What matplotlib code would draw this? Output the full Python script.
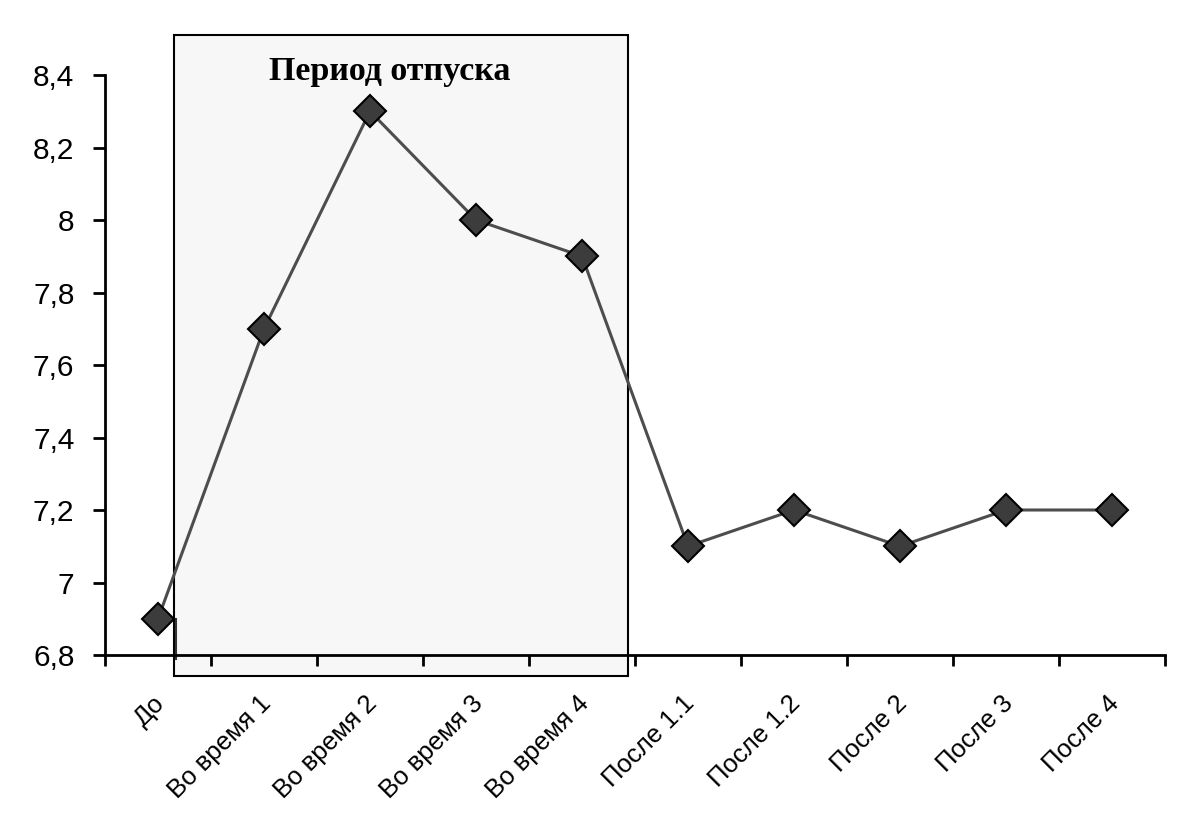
import matplotlib.pyplot as plt
from matplotlib.patches import Rectangle
from matplotlib.ticker import FixedLocator, FuncFormatter
from matplotlib.transforms import ScaledTranslation

# данные
categories = ['До', 'Во время 1', 'Во время 2', 'Во время 3', 'Во время 4',
              'После 1.1', 'После 1.2', 'После 2', 'После 3', 'После 4']
values = [6.9, 7.7, 8.3, 8.0, 7.9, 7.1, 7.2, 7.1, 7.2, 7.2]
y_ticks = [6.8, 7.0, 7.2, 7.4, 7.6, 7.8, 8.0, 8.2, 8.4]
period_title = 'Период отпуска'
period_range = (0.15, 4.43)

fig = plt.figure(figsize=(12, 8.13), dpi=100)
ax = fig.add_axes([105 / 1200, (813 - 655) / 813, 1060 / 1200, 580 / 813])

x = list(range(len(categories)))

# серый прямоугольник периода отпуска
rect = Rectangle((period_range[0], 6.742), period_range[1] - period_range[0], 8.51 - 6.742,
                 facecolor='#f7f7f7', edgecolor='black', linewidth=1.5,
                 clip_on=False, zorder=0)
ax.add_patch(rect)
ax.text(sum(period_range) / 2 - 0.1, 8.41, period_title, ha='center', va='center',
        fontsize=24.5, fontweight='bold', family='Liberation Serif', zorder=3)

ax.plot([0.17, 0.17], [6.9, 6.79], color='#333333', lw=1.5, clip_on=False, zorder=1)

ax.plot(x, values, color='#4d4d4d', lw=2.2, marker='D', markersize=16,
        markerfacecolor='#3c3c3c', markeredgecolor='black', markeredgewidth=1.5,
        clip_on=False, zorder=4)

ax.set_xlim(-0.5, len(categories) - 0.5)
ax.set_ylim(6.8, 8.4)

ax.xaxis.set_major_locator(FixedLocator([i - 0.5 for i in range(len(categories) + 1)]))
ax.set_xticklabels([])
ax.xaxis.set_minor_locator(FixedLocator(x))
ax.set_xticklabels(categories, minor=True)
ax.tick_params(axis='x', which='major', direction='out', length=8, width=2)
ax.tick_params(axis='x', which='minor', length=0, pad=26, labelsize=18.5)
shift = ScaledTranslation(-4 / 72, 0, fig.dpi_scale_trans)
for lbl in ax.get_xticklabels(minor=True):
    lbl.set_rotation(45)
    lbl.set_ha('right')
    lbl.set_va('top')
    lbl.set_rotation_mode('anchor')
    lbl.set_family('Liberation Sans')
    lbl.set_transform(lbl.get_transform() + shift)

ax.set_yticks(y_ticks)
ax.yaxis.set_major_formatter(FuncFormatter(lambda v, p: f'{v:g}'.replace('.', ',')))
ax.tick_params(axis='y', direction='out', length=9, width=2, labelsize=21.5, pad=13)
for lbl in ax.get_yticklabels():
    lbl.set_family('Liberation Sans')

for s in ['top', 'right']:
    ax.spines[s].set_visible(False)
for s in ['left', 'bottom']:
    ax.spines[s].set_linewidth(2)
ax.patch.set_visible(False)

fig.savefig('out.png', dpi=100)
